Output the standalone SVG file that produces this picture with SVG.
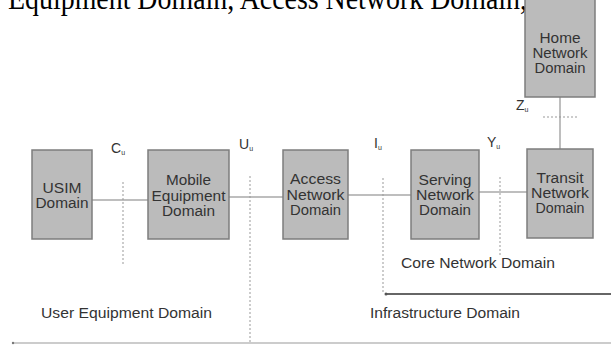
<svg xmlns="http://www.w3.org/2000/svg" width="611" height="347" viewBox="0 0 611 347">
<style>
.box{fill:#bbbbbb;stroke:#7d7d7d;stroke-width:1.5}
.t{font-family:"Liberation Sans",Arial,sans-serif;font-size:14px;fill:#333;text-anchor:middle}
.lbl{font-family:"Liberation Sans",Arial,sans-serif;font-size:14px;fill:#333}
.sub{font-size:7px}
.link{stroke:#a8a8a8;stroke-width:1.5;fill:none}
.dot{stroke:#999;stroke-width:1;stroke-dasharray:2 2;fill:none}
</style>
<rect width="611" height="347" fill="#fff"/>
<text x="8" y="9" font-family="'Liberation Serif','Times New Roman',serif" font-size="32" fill="#000" textLength="519" lengthAdjust="spacingAndGlyphs">Equipment Domain, Access Network Domain,</text>
<g id="connectors">
<line class="link" x1="92" y1="200" x2="148" y2="200"/>
<line class="link" x1="229" y1="197" x2="283" y2="197"/>
<line class="link" x1="348" y1="195" x2="411" y2="195"/>
<line class="link" x1="479" y1="192" x2="527" y2="192"/>
<line class="link" x1="560" y1="97" x2="560" y2="149"/>
<line class="dot" x1="123" y1="182" x2="123" y2="266"/>
<line class="dot" x1="250" y1="176" x2="250" y2="343"/>
<line class="dot" x1="383" y1="178" x2="383" y2="293"/>
<line class="dot" x1="500" y1="177" x2="500" y2="256"/>
<line class="dot" x1="543" y1="117" x2="577" y2="117"/>
<line x1="385" y1="294" x2="611" y2="294" stroke="#666" stroke-width="2"/>
<circle cx="386" cy="294" r="1.5" fill="#555"/>
<line x1="13" y1="343" x2="611" y2="343" stroke="#999" stroke-width="1.2"/>
<circle cx="13" cy="343" r="1.2" fill="#777"/>
</g>
<g id="usim"><rect class="box" x="32" y="150" width="60" height="89"/><text class="t" x="62" y="193" textLength="39" lengthAdjust="spacingAndGlyphs">USIM</text><text class="t" x="62" y="208" textLength="53" lengthAdjust="spacingAndGlyphs">Domain</text></g>
<g id="mobile"><rect class="box" x="148" y="150" width="81" height="89"/><text class="t" x="188.5" y="185" textLength="45" lengthAdjust="spacingAndGlyphs">Mobile</text><text class="t" x="188.5" y="201" textLength="74" lengthAdjust="spacingAndGlyphs">Equipment</text><text class="t" x="188.5" y="216" textLength="53" lengthAdjust="spacingAndGlyphs">Domain</text></g>
<g id="access"><rect class="box" x="283" y="150" width="65" height="89"/><text class="t" x="315.5" y="184" textLength="51" lengthAdjust="spacingAndGlyphs">Access</text><text class="t" x="315.5" y="200" textLength="58" lengthAdjust="spacingAndGlyphs">Network</text><text class="t" x="315.5" y="215" textLength="51" lengthAdjust="spacingAndGlyphs">Domain</text></g>
<g id="serving"><rect class="box" x="411" y="150" width="68" height="89"/><text class="t" x="445" y="185" textLength="53" lengthAdjust="spacingAndGlyphs">Serving</text><text class="t" x="445" y="200" textLength="58" lengthAdjust="spacingAndGlyphs">Network</text><text class="t" x="445" y="215" textLength="52" lengthAdjust="spacingAndGlyphs">Domain</text></g>
<g id="transit"><rect class="box" x="527" y="149" width="66" height="89"/><text class="t" x="560" y="183" textLength="47" lengthAdjust="spacingAndGlyphs">Transit</text><text class="t" x="560" y="198" textLength="58" lengthAdjust="spacingAndGlyphs">Network</text><text class="t" x="560" y="213" textLength="49" lengthAdjust="spacingAndGlyphs">Domain</text></g>
<g id="home"><rect class="box" x="525" y="-2" width="70" height="99"/><text class="t" x="560" y="43" textLength="41" lengthAdjust="spacingAndGlyphs">Home</text><text class="t" x="560" y="58" textLength="55" lengthAdjust="spacingAndGlyphs">Network</text><text class="t" x="560" y="73" textLength="51" lengthAdjust="spacingAndGlyphs">Domain</text></g>
<g id="labels">
<text class="lbl" x="111" y="153">C<tspan class="sub" dy="2">u</tspan></text>
<text class="lbl" x="239" y="149">U<tspan class="sub" dy="2">u</tspan></text>
<text class="lbl" x="374" y="148">I<tspan class="sub" dy="2">u</tspan></text>
<text class="lbl" x="487" y="147">Y<tspan class="sub" dy="2">u</tspan></text>
<text class="lbl" x="516" y="110">Z<tspan class="sub" dy="2">u</tspan></text>
<text class="lbl" x="401" y="268" font-size="15" textLength="154" lengthAdjust="spacingAndGlyphs">Core Network Domain</text>
<text class="lbl" x="41" y="318" font-size="15" textLength="171" lengthAdjust="spacingAndGlyphs">User Equipment Domain</text>
<text class="lbl" x="370" y="318" font-size="15" textLength="150" lengthAdjust="spacingAndGlyphs">Infrastructure Domain</text>
</g>
</svg>
